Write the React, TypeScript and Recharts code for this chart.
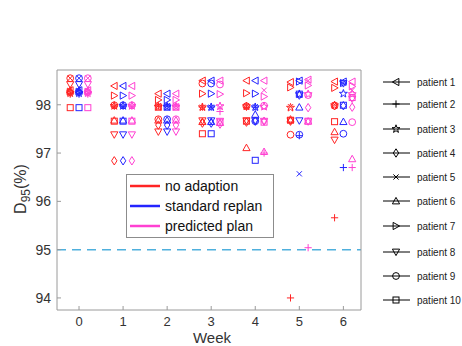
import { ScatterChart, Scatter, XAxis, YAxis, ReferenceLine } from "recharts";

// weeks on the x axis, D95 values read per patient (rows) and week (columns)
const WEEKS = [0, 1, 2, 3, 4, 5, 6];
const Y_TICKS = [94, 95, 96, 97, 98];
const THRESHOLD = 95;

const PATIENTS = [
  "patient 1", "patient 2", "patient 3", "patient 4", "patient 5",
  "patient 6", "patient 7", "patient 8", "patient 9", "patient 10",
];
const PLANS = ["no adaption", "standard replan", "predicted plan"];

const NO_ADAPTION = [
  [98.3, 98.39, 98.23, 98.5, 98.5, 98.47, 98.48],
  [98.22, 97.97, 97.97, 97.95, 97.95, 94.0, 95.66],
  [98.24, 97.98, 97.96, 97.95, 97.97, 97.94, 97.99],
  [98.26, 96.84, 97.58, 97.62, 97.64, 97.66, 97.98],
  [98.55, 97.96, 97.98, 97.95, 97.96, 97.96, 98.0],
  [98.3, 97.68, 97.68, 97.65, 97.11, 97.7, 97.44],
  [98.27, 98.19, 98.1, 98.23, 98.24, 98.36, 98.35],
  [98.42, 97.38, 97.44, 97.67, 97.67, 97.67, 97.27],
  [98.55, 97.99, 97.7, 98.44, 97.97, 97.38, 97.98],
  [97.94, 97.66, 97.95, 97.4, 97.66, 97.68, 97.65],
];

const STANDARD_REPLAN = [
  [98.3, 98.39, 98.23, 98.5, 98.5, 98.5, 98.48],
  [98.22, 97.97, 97.97, 97.95, 97.95, 97.36, 96.7],
  [98.24, 97.98, 97.96, 97.95, 97.95, 98.22, 98.23],
  [98.26, 96.84, 97.58, 97.62, 97.66, 98.2, 97.98],
  [98.55, 97.96, 97.98, 97.95, 97.96, 96.57, 98.45],
  [98.3, 97.68, 97.68, 97.65, 97.8, 97.95, 97.65],
  [98.27, 98.19, 98.1, 98.23, 98.23, 98.48, 98.45],
  [98.42, 97.38, 97.44, 97.67, 97.67, 97.67, 98.44],
  [98.55, 97.99, 97.7, 98.44, 97.66, 97.38, 97.4],
  [97.94, 97.66, 97.95, 97.4, 96.85, 98.22, 97.99],
];

const PREDICTED_PLAN = [
  [98.3, 98.39, 98.23, 98.5, 98.5, 98.52, 98.48],
  [98.22, 97.97, 97.97, 97.86, 97.0, 95.04, 96.7],
  [98.24, 97.98, 97.96, 97.97, 97.96, 98.22, 98.22],
  [98.26, 96.84, 97.58, 97.6, 97.66, 97.94, 97.95],
  [98.55, 97.96, 97.98, 97.95, 98.3, 98.5, 98.3],
  [98.3, 97.68, 97.68, 97.63, 97.03, 97.66, 96.88],
  [98.27, 98.19, 98.1, 98.22, 98.17, 98.4, 98.38],
  [98.42, 97.38, 97.44, 97.66, 97.66, 97.65, 98.12],
  [98.55, 97.99, 97.7, 98.42, 97.98, 98.2, 97.64],
  [97.94, 97.66, 97.95, 97.64, 97.64, 97.66, 98.15],
];

const SERIES = [NO_ADAPTION, STANDARD_REPLAN, PREDICTED_PLAN];
const PLAN_COLORS = ["#ff2424", "#2424ff", "#ff40d2"];
const PLAN_SHIFT = [-0.2, 0, 0.2]; // side-by-side placement within a week
const FONT = "'Liberation Sans', Arial, sans-serif";
const AXIS = "#9a9a9a";

// one outline marker per patient, matlab-ish
function Marker({ kind, cx, cy, color }: { kind: number; cx: number; cy: number; color: string }) {
  const s = 3.6;
  const p = { fill: "none", stroke: color, strokeWidth: 1 };
  switch (kind) {
    case 0:
      return <polygon {...p} points={`${cx - s},${cy} ${cx + s * 0.8},${cy - s} ${cx + s * 0.8},${cy + s}`} />;
    case 1:
      return (
        <g {...p}>
          <line x1={cx - s} y1={cy} x2={cx + s} y2={cy} />
          <line x1={cx} y1={cy - s} x2={cx} y2={cy + s} />
        </g>
      );
    case 2: {
      const pts: string[] = [];
      for (let i = 0; i < 10; i++) {
        const r = i % 2 === 0 ? s + 0.6 : 1.7;
        const a = -Math.PI / 2 + (i * Math.PI) / 5;
        pts.push(`${cx + r * Math.cos(a)},${cy + r * Math.sin(a)}`);
      }
      return <polygon {...p} points={pts.join(" ")} />;
    }
    case 3:
      return <polygon {...p} points={`${cx},${cy - s - 0.6} ${cx + s * 0.75},${cy} ${cx},${cy + s + 0.6} ${cx - s * 0.75},${cy}`} />;
    case 4:
      return (
        <g {...p}>
          <line x1={cx - 2.6} y1={cy - 2.6} x2={cx + 2.6} y2={cy + 2.6} />
          <line x1={cx - 2.6} y1={cy + 2.6} x2={cx + 2.6} y2={cy - 2.6} />
        </g>
      );
    case 5:
      return <polygon {...p} points={`${cx},${cy - s} ${cx + s},${cy + s * 0.8} ${cx - s},${cy + s * 0.8}`} />;
    case 6:
      return <polygon {...p} points={`${cx + s},${cy} ${cx - s * 0.8},${cy - s} ${cx - s * 0.8},${cy + s}`} />;
    case 7:
      return <polygon {...p} points={`${cx},${cy + s} ${cx + s},${cy - s * 0.8} ${cx - s},${cy - s * 0.8}`} />;
    case 8:
      return <circle {...p} cx={cx} cy={cy} r={s - 0.2} />;
    default:
      return <rect {...p} x={cx - 3} y={cy - 3} width={6} height={6} />;
  }
}

const LEGEND_ROWS = [82, 104, 129, 153, 177, 201, 226, 252, 276, 300];

export default function App() {
  return (
    <div style={{ position: "absolute", left: 0, top: 0, width: 462, height: 346, background: "#fff" }}>
      <ScatterChart width={462} height={346} margin={{ top: 40, right: 71, bottom: 0, left: 0 }}>
        <XAxis
          xAxisId="b"
          type="number"
          dataKey="x"
          domain={[-0.5, 6.4]}
          ticks={WEEKS}
          allowDataOverflow
          height={36}
          stroke={AXIS}
          tickSize={-4}
          tickMargin={11}
          tick={{ fill: "#333", fontSize: 13, fontFamily: FONT }}
        />
        <XAxis
          xAxisId="t"
          orientation="top"
          type="number"
          dataKey="x"
          domain={[-0.5, 6.4]}
          ticks={WEEKS}
          allowDataOverflow
          height={30}
          stroke={AXIS}
          tickSize={-4}
          tick={false}
        />
        <YAxis
          yAxisId="l"
          type="number"
          dataKey="y"
          domain={[93.75, 98.72]}
          ticks={Y_TICKS}
          allowDataOverflow
          width={57}
          stroke={AXIS}
          tickSize={-4}
          tickMargin={10}
          tick={{ fill: "#333", fontSize: 14, fontFamily: FONT }}
        />
        <YAxis
          yAxisId="r"
          orientation="right"
          type="number"
          dataKey="y"
          domain={[93.75, 98.72]}
          ticks={Y_TICKS}
          allowDataOverflow
          width={30}
          stroke={AXIS}
          tickSize={-4}
          tick={false}
        />
        <ReferenceLine
          xAxisId="b"
          yAxisId="l"
          y={THRESHOLD}
          stroke="#4fb0dd"
          strokeWidth={1.5}
          strokeDasharray="9 6"
        />
        {SERIES.map((plan, pi) =>
          plan.map((vals, k) => (
            <Scatter
              key={`${pi}-${k}`}
              xAxisId="b"
              yAxisId="l"
              name={`${PLANS[pi]} ${PATIENTS[k]}`}
              data={WEEKS.map((w, i) => ({ x: w + PLAN_SHIFT[pi], y: vals[i] }))}
              isAnimationActive={false}
              shape={(props: any) => (
                <Marker kind={k} cx={props.cx} cy={props.cy} color={PLAN_COLORS[pi]} />
              )}
            />
          ))
        )}
      </ScatterChart>

      <svg
        width={462}
        height={346}
        style={{ position: "absolute", left: 0, top: 0, pointerEvents: "none" }}
        fontFamily={FONT}
      >
        {/* plan legend inside the axes */}
        <rect x={126.5} y={174.5} width={147} height={63} fill="#fff" stroke="#8c8c8c" />
        {PLANS.map((name, i) => (
          <g key={name}>
            <line x1={130} x2={160} y1={186 + i * 20} y2={186 + i * 20} stroke={PLAN_COLORS[i]} strokeWidth={2.5} />
            <text x={165} y={191 + i * 20} fontSize={14} fill="#111">
              {name}
            </text>
          </g>
        ))}

        {/* patient marker legend */}
        {PATIENTS.map((name, k) => (
          <g key={name}>
            <line x1={383} x2={410} y1={LEGEND_ROWS[k]} y2={LEGEND_ROWS[k]} stroke="#000" />
            <Marker kind={k} cx={396} cy={LEGEND_ROWS[k]} color="#000" />
            <text x={417} y={LEGEND_ROWS[k] + 4} fontSize={10} fill="#222">
              {name}
            </text>
          </g>
        ))}

        <text x={212} y={343} fontSize={15} fill="#333" textAnchor="middle">
          Week
        </text>
        <text transform="translate(26,189) rotate(-90)" fontSize={16} fill="#333" textAnchor="middle">
          D
          <tspan fontSize={12} dy={4}>95</tspan>
          <tspan dy={-4}>(%)</tspan>
        </text>
      </svg>
    </div>
  );
}
